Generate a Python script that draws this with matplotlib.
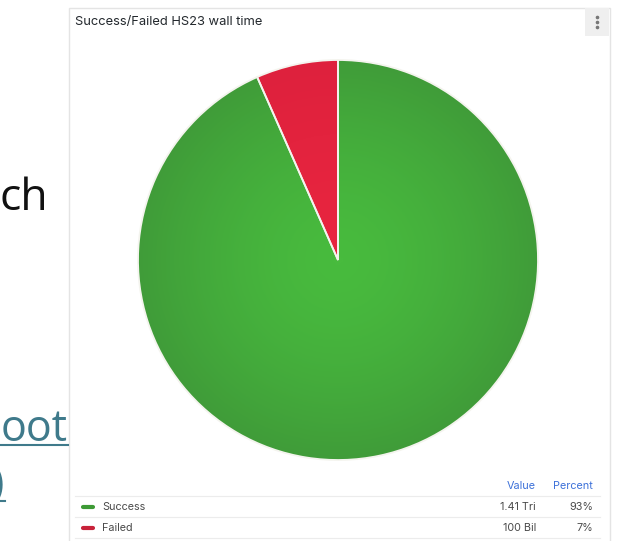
import matplotlib.pyplot as plt
import numpy as np
from matplotlib.patches import Rectangle
from matplotlib.colors import LinearSegmentedColormap

# data
labels = ['Success', 'Failed']
values = [1.41e12, 1.00e11]
value_text = ['1.41 Tri', '100 Bil']
colors_center = ['#48bb3e', '#e8253f']
colors_edge = ['#409c39', '#de213d']
legend_colors = ['#3d9a35', '#c8223a']
title = 'Success/Failed HS23 wall time'

W, H = 623, 541
fig = plt.figure(figsize=(W / 100, H / 100), dpi=100)
fig.patch.set_facecolor('white')
plt.rcParams['font.family'] = ['Inter', 'DejaVu Sans']
slide_font = ['Open Sans', 'DejaVu Sans']


def fx(x):
    return x / W


def fy(y):
    return 1 - y / H


# background overlay axes in pixel coordinates
bg = fig.add_axes([0, 0, 1, 1])
bg.set_xlim(0, W)
bg.set_ylim(H, 0)
bg.axis('off')

# panel frame
bg.add_patch(Rectangle((68.5, 7.5), 541, 560, facecolor='white',
                       edgecolor='#e4e4e4', lw=1))
bg.add_patch(Rectangle((585, 8), 24, 28, facecolor='#efefef', edgecolor='none'))
for yy in (16.5, 21.5, 26.5):
    bg.plot(597, yy, marker='o', ms=1.6, color='#777777')
bg.text(75, 22, title, fontsize=9.3, color='#24292e', va='center', ha='left')

# slide text behind the panel
bg.text(48, 210, 'ch', fontsize=32, color='#111111', ha='right',
        va='baseline', family=slide_font)
bg.text(68, 441, 'oot', fontsize=31, color='#3f7a8b', ha='right',
        va='baseline', family=slide_font)
bg.plot([0, 68], [445, 445], color='#3f7a8b', lw=1.5)
bg.text(4, 496, ')', fontsize=30, color='#3f7a8b', ha='right',
        va='baseline', family=slide_font, clip_on=False)
bg.plot([0, 5], [501, 501], color='#3f7a8b', lw=1.5)

# legend table
total = sum(values)
fs = 7.8
bg.text(536, 486, 'Value', fontsize=fs, color='#3d71d9', ha='right', va='center')
bg.text(593, 486, 'Percent', fontsize=fs, color='#3d71d9', ha='right', va='center')
for ly in (496, 517, 538):
    bg.plot([75, 600], [ly, ly], color='#ececec', lw=0.8)
for i, lab in enumerate(labels):
    ry = 507 + 21 * i
    bg.plot([83, 93], [ry, ry], color=legend_colors[i], lw=3, solid_capstyle='round')
    bg.text(102, ry, lab, fontsize=fs, color='#4a4a4a', ha='left', va='center')
    bg.text(536, ry, value_text[i], fontsize=fs, color='#4a4a4a', ha='right', va='center')
    bg.text(593, ry, '%d%%' % round(values[i] / total * 100), fontsize=fs,
            color='#4a4a4a', ha='right', va='center')

# pie
ax = fig.add_axes([fx(138), fy(460), 400 / W, 400 / H])
wedges, _ = ax.pie(values, startangle=90, counterclock=False, radius=1,
                   colors=colors_center,
                   wedgeprops=dict(edgecolor='#f4f4ee', linewidth=1.3))

yy, xx = np.mgrid[-1:1:300j, -1:1:300j]
rr = np.clip(np.sqrt(xx ** 2 + yy ** 2), 0, 1)
for w, c0, c1 in zip(wedges, colors_center, colors_edge):
    cmap = LinearSegmentedColormap.from_list('g', [c0, c1])
    im = ax.imshow(rr ** 1.5, cmap=cmap, extent=(-1, 1, -1, 1), origin='lower',
                   zorder=1)
    im.set_clip_path(w)
    w.set_facecolor('none')
    w.set_zorder(2)

ax.set_xlim(-1, 1)
ax.set_ylim(-1, 1)
ax.set_aspect('auto')
ax.axis('off')

fig.savefig('out.png', dpi=100)
